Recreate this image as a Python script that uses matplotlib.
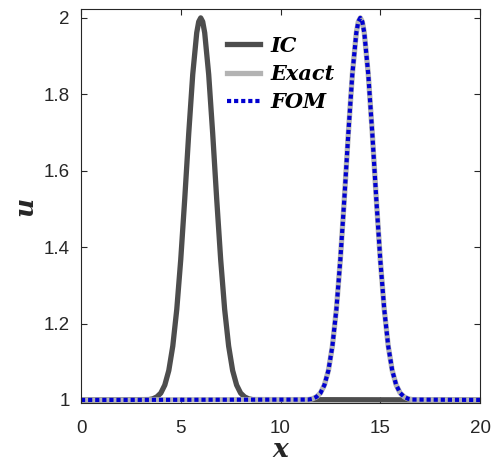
import matplotlib
matplotlib.use("Agg")
import matplotlib.pyplot as plt
from matplotlib.font_manager import FontProperties

plt.rcParams['font.family'] = ['Liberation Sans', 'DejaVu Sans']

# Initial condition pulse
x_ic = [0, 3.4, 3.6, 3.8, 4.0, 4.2, 4.4, 4.6, 4.8, 5.0, 5.2, 5.4, 5.6, 5.8, 5.9, 6.0,
        6.1, 6.2, 6.4, 6.6, 6.8, 7.0, 7.2, 7.4, 7.6, 7.8, 8.0, 8.2, 8.4, 8.6, 20]
u_ic = [1.000, 1.001, 1.003, 1.008, 1.018, 1.039, 1.077, 1.141, 1.237, 1.368, 1.527,
        1.698, 1.852, 1.961, 1.990, 2.000, 1.990, 1.961, 1.852, 1.698, 1.527, 1.368,
        1.237, 1.141, 1.077, 1.039, 1.018, 1.008, 1.003, 1.001, 1.000]

# Exact solution (pulse translated to x = 14)
x_exact = [0, 11.4, 11.6, 11.8, 12.0, 12.2, 12.4, 12.6, 12.8, 13.0, 13.2, 13.4, 13.6, 13.8,
           13.9, 14.0, 14.1, 14.2, 14.4, 14.6, 14.8, 15.0, 15.2, 15.4, 15.6, 15.8, 16.0,
           16.2, 16.4, 16.6, 20]
u_exact = [1.000, 1.001, 1.003, 1.008, 1.018, 1.039, 1.077, 1.141, 1.237, 1.368, 1.527,
           1.698, 1.852, 1.961, 1.990, 2.000, 1.990, 1.961, 1.852, 1.698, 1.527, 1.368,
           1.237, 1.141, 1.077, 1.039, 1.018, 1.008, 1.003, 1.001, 1.000]

# Full order model (matches exact)
x_fom = list(x_exact)
u_fom = [1.000, 1.001, 1.003, 1.008, 1.018, 1.039, 1.077, 1.141, 1.237, 1.368, 1.527,
         1.698, 1.852, 1.961, 1.990, 2.000, 1.990, 1.961, 1.852, 1.698, 1.527, 1.368,
         1.237, 1.141, 1.077, 1.039, 1.018, 1.008, 1.003, 1.001, 1.000]

series_labels = ['IC', 'Exact', 'FOM']
xticks = [0, 5, 10, 15, 20]
yticks = [1, 1.2, 1.4, 1.6, 1.8, 2]
ytick_labels = ['1', '1.2', '1.4', '1.6', '1.8', '2']

fig = plt.figure(figsize=(4.91, 4.67), dpi=100)
ax = fig.add_axes([0.165, 0.137, 0.8126, 0.8427])

axc = '#262626'
ax.plot(x_ic, u_ic, color='#4d4d4d', lw=3.8, solid_joinstyle='round', label=series_labels[0])
ax.plot(x_exact, u_exact, color='#b3b3b3', lw=3.8, solid_joinstyle='round', label=series_labels[1])
ax.plot(x_fom, u_fom, color='#0000d0', lw=3.0, linestyle=(0, (1, 0.7)), label=series_labels[2])

ax.set_xlim(0, 20)
ax.set_ylim(0.992, 2.022)
ax.set_xticks(xticks)
ax.set_yticks(yticks)
ax.set_yticklabels(ytick_labels)
ax.tick_params(direction='in', top=True, right=True, colors=axc, labelsize=13.5,
               length=4, width=0.8)
ax.tick_params(axis='x', pad=12)
ax.tick_params(axis='y', pad=8)
for s in ax.spines.values():
    s.set_color(axc)
    s.set_linewidth(0.8)

lab_font = FontProperties(family='DejaVu Serif', weight='bold', style='italic', size=19)
ax.set_xlabel('x', fontproperties=lab_font, color=axc, labelpad=0)
ax.set_ylabel('u', fontproperties=lab_font, color=axc, labelpad=5, rotation=90)

leg_font = FontProperties(family='DejaVu Serif', weight='bold', style='italic', size=15)
leg = ax.legend(loc='upper left', bbox_to_anchor=(0.345, 0.955), frameon=False,
                prop=leg_font, handlelength=1.6, handletextpad=0.5, labelspacing=0.4,
                borderaxespad=0.0)

fig.savefig('out.png', dpi=100)
